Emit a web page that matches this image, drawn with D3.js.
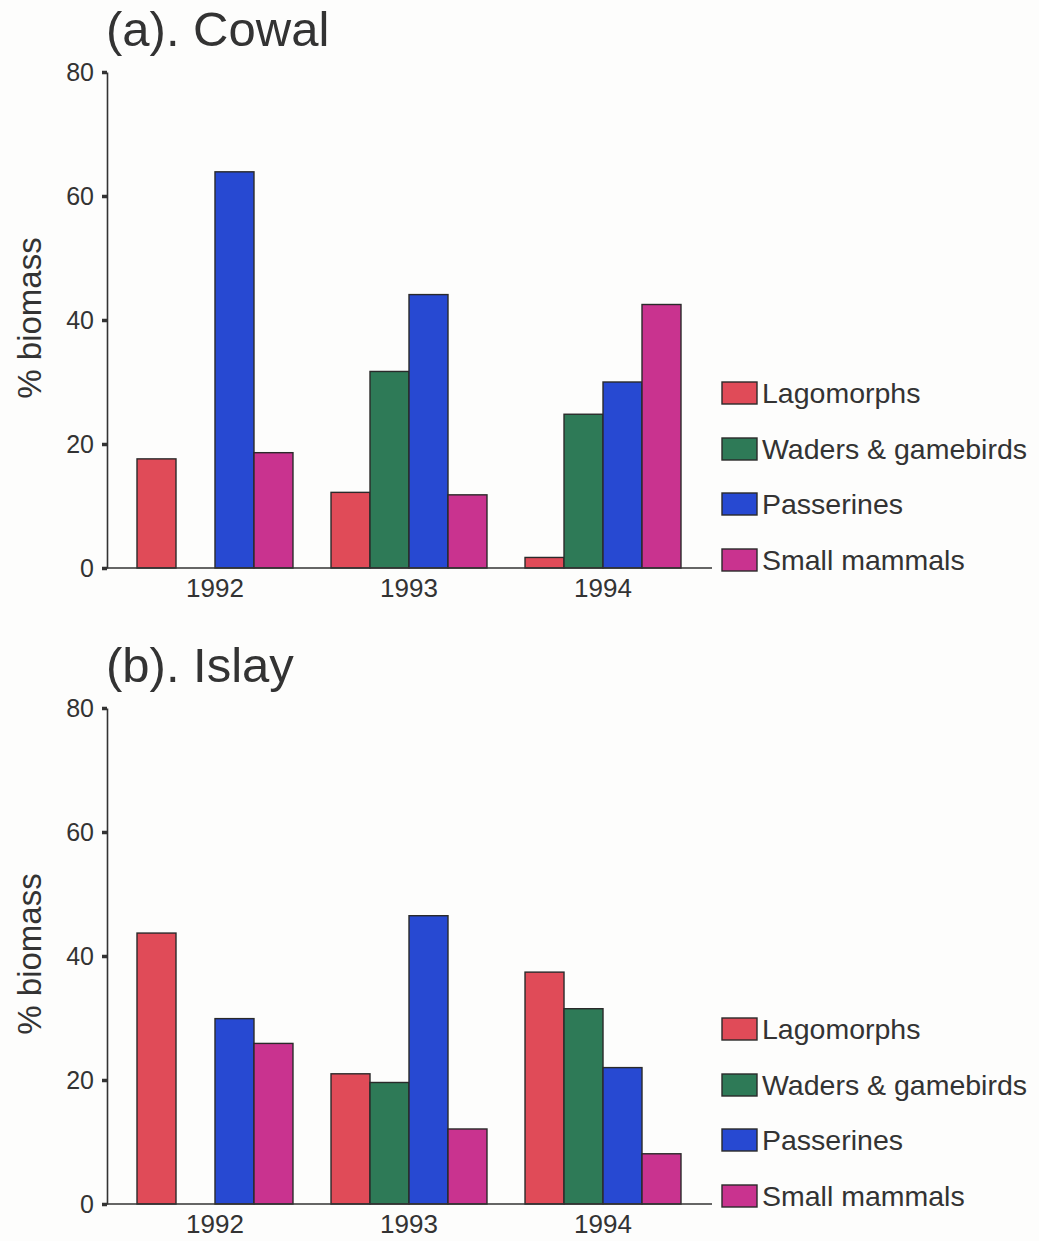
<!DOCTYPE html>
<html>
<head>
<meta charset="utf-8">
<script src="https://cdn.jsdelivr.net/npm/d3@7/dist/d3.min.js"></script>
<style>
  html, body { margin: 0; padding: 0; background: #fdfdfc; }
  svg { display: block; }
  text { font-family: "Liberation Sans", Arial, Helvetica, sans-serif; fill: #333; }
</style>
</head>
<body>
<svg id="chart" width="1039" height="1241"></svg>
<script>
// Prey composition (% biomass) by year for two study areas
const years = ["1992", "1993", "1994"];
const preyGroups = ["Lagomorphs", "Waders & gamebirds", "Passerines", "Small mammals"];
const preyColors = ["#e04b58", "#2e7a57", "#2749d2", "#c9338f"];
const yTicks = [0, 20, 40, 60, 80];

// Cowal: one array per prey group, ordered by year
const cowalLagomorphs = [17.6, 12.2, 1.7];
const cowalWaders = [0, 31.7, 24.8];
const cowalPasserines = [63.9, 44.1, 30.0];
const cowalSmallMammals = [18.6, 11.8, 42.5];

// Islay
const islayLagomorphs = [43.7, 21.0, 37.4];
const islayWaders = [0, 19.6, 31.5];
const islayPasserines = [29.9, 46.5, 22.0];
const islaySmallMammals = [25.9, 12.1, 8.1];

const panels = [
  { title: "(a). Cowal", offset: 0,
    series: [cowalLagomorphs, cowalWaders, cowalPasserines, cowalSmallMammals] },
  { title: "(b). Islay", offset: 636,
    series: [islayLagomorphs, islayWaders, islayPasserines, islaySmallMammals] }
];

const svg = d3.select("#chart");

const axisX = 107, axisRight = 712;
const x = d3.scaleBand().domain(years).range([117.6, 700.4])
  .paddingInner(0.196).paddingOuter(0.1);
const xInner = d3.scaleBand().domain(preyGroups).range([0, x.bandwidth()]).padding(0);
const y = d3.scaleLinear().domain([0, 80]).range([568, 72]);
const color = d3.scaleOrdinal().domain(preyGroups).range(preyColors);

panels.forEach(p => {
  const g = svg.append("g").attr("transform", `translate(0,${p.offset})`);

  // title
  g.append("text")
    .attr("x", 106).attr("y", 46)
    .style("font-size", "49px")
    .text(p.title);

  // bars
  const rows = years.map((yr, i) => ({
    year: yr,
    values: preyGroups.map((k, j) => ({ key: k, value: p.series[j][i] }))
  }));

  const groups = g.selectAll("g.year").data(rows).join("g")
    .attr("class", "year")
    .attr("transform", d => `translate(${x(d.year)},0)`);

  groups.selectAll("rect")
    .data(d => d.values.filter(v => v.value > 0))
    .join("rect")
    .attr("x", d => xInner(d.key))
    .attr("width", xInner.bandwidth())
    .attr("y", d => y(d.value))
    .attr("height", d => y(0) - y(d.value))
    .attr("fill", d => color(d.key))
    .attr("stroke", "#2a2a2a")
    .attr("stroke-width", 1.4);

  // y axis
  const yAxis = g.append("g")
    .attr("transform", `translate(${axisX},0)`)
    .call(d3.axisLeft(y).tickValues(yTicks).tickSize(5).tickPadding(8).tickSizeOuter(0));
  yAxis.select(".domain").attr("stroke", "#333").attr("stroke-width", 1.6);
  yAxis.selectAll(".tick line").attr("stroke", "#333").attr("stroke-width", 3.5);
  yAxis.selectAll(".tick text")
    .style("font-size", "25px")
    .style("font-family", "'Liberation Sans', Arial, sans-serif")
    .attr("fill", "#333");

  // x axis baseline
  g.append("line")
    .attr("x1", axisX - 1).attr("x2", axisRight)
    .attr("y1", y(0)).attr("y2", y(0))
    .attr("stroke", "#333").attr("stroke-width", 1.6);

  // year labels
  g.selectAll("text.year").data(years).join("text")
    .attr("class", "year")
    .attr("x", d => x(d) + x.bandwidth() / 2)
    .attr("y", 597)
    .attr("text-anchor", "middle")
    .style("font-size", "26px")
    .text(d => d);

  // y axis title
  g.append("text")
    .attr("transform", "translate(41,318) rotate(-90)")
    .attr("text-anchor", "middle")
    .style("font-size", "33px")
    .text("% biomass");

  // legend
  const legend = g.append("g");
  const rowY = [393, 449, 504, 560];
  const items = legend.selectAll("g").data(preyGroups).join("g")
    .attr("transform", (d, i) => `translate(722,${rowY[i]})`);
  items.append("rect")
    .attr("x", 0).attr("y", -11)
    .attr("width", 35).attr("height", 22)
    .attr("fill", d => color(d))
    .attr("stroke", "#2a2a2a").attr("stroke-width", 1.4);
  items.append("text")
    .attr("x", 40).attr("y", 0).attr("dy", "0.36em")
    .style("font-size", "28.5px")
    .text(d => d);
});
</script>
</body>
</html>
